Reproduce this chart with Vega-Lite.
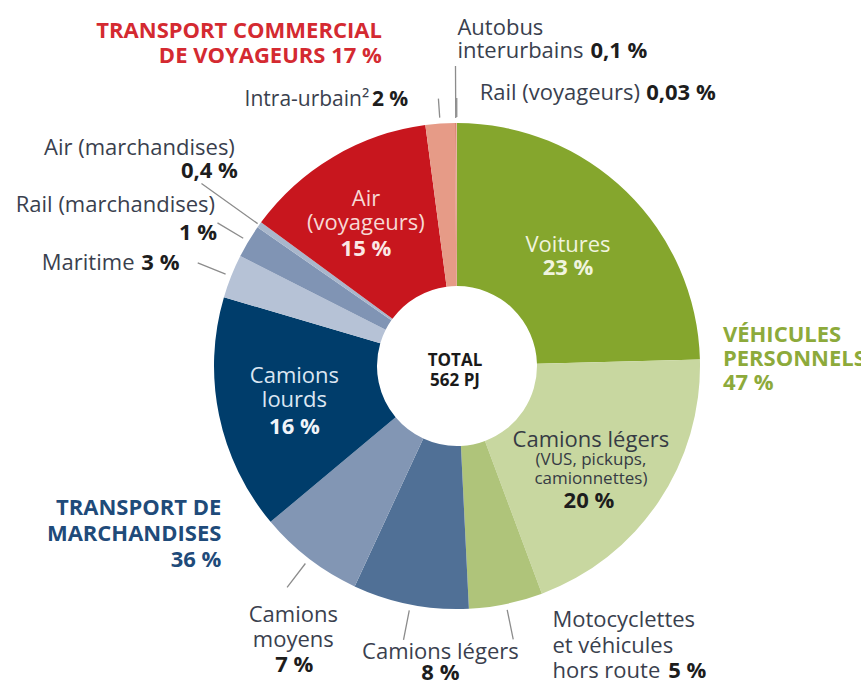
{
  "$schema": "https://vega.github.io/schema/vega-lite/v6.json",
  "autosize": "none",
  "width": 808,
  "height": 642,
  "padding": {"left": 53, "top": 45, "right": 0, "bottom": 0},
  "background": "white",
  "config": {"view": {"stroke": null}, "text": {"font": "Open Sans", "fontSize": 22, "lineBreak": "\n", "baseline": "alphabetic"}},
  "datasets": {
    "slices": [
      {"idx": 1, "key": "voit", "name": "Voitures", "pct": "23 %", "sub": "", "share": 24.57},
      {"idx": 2, "key": "clvp", "name": "Camions légers", "pct": "20 %", "sub": "(VUS, pickups,\ncamionnettes)", "share": 19.75},
      {"idx": 3, "key": "moto", "name": "Motocyclettes\net véhicules\nhors route", "pct": "5 %", "sub": "", "share": 4.9},
      {"idx": 4, "key": "clm", "name": "Camions légers", "pct": "8 %", "sub": "", "share": 7.7},
      {"idx": 5, "key": "cm", "name": "Camions\nmoyens", "pct": "7 %", "sub": "", "share": 7.0},
      {"idx": 6, "key": "cl", "name": "Camions\nlourds", "pct": "16 %", "sub": "", "share": 15.65},
      {"idx": 7, "key": "mar", "name": "Maritime", "pct": "3 %", "sub": "", "share": 2.9},
      {"idx": 8, "key": "railm", "name": "Rail (marchandises)", "pct": "1 %", "sub": "", "share": 2.2},
      {"idx": 9, "key": "airm", "name": "Air (marchandises)", "pct": "0,4 %", "sub": "", "share": 0.4},
      {"idx": 10, "key": "airv", "name": "Air\n(voyageurs)", "pct": "15 %", "sub": "", "share": 12.85},
      {"idx": 11, "key": "intra", "name": "Intra-urbain²", "pct": "2 %", "sub": "", "share": 1.95},
      {"idx": 12, "key": "bus", "name": "Autobus\ninterurbains", "pct": "0,1 %", "sub": "", "share": 0.1},
      {"idx": 13, "key": "railv", "name": "Rail (voyageurs)", "pct": "0,03 %", "sub": "", "share": 0.03}
    ],
    "groups": [
      {"idx": 1, "key": "vp", "label": "VÉHICULES\nPERSONNELS\n47 %", "share": 49.22},
      {"idx": 2, "key": "tm", "label": "TRANSPORT DE\nMARCHANDISES\n36 %", "share": 35.85},
      {"idx": 3, "key": "tcv", "label": "TRANSPORT COMMERCIAL\nDE VOYAGEURS 17 %", "share": 14.93}
    ],
    "center": [{"label": "TOTAL\n562 PJ"}]
  },
  "layer": [
    {
      "data": {"name": "slices"},
      "encoding": {
        "theta": {"field": "share", "type": "quantitative", "stack": true, "scale": {"domain": [0, 100]}},
        "order": {"field": "idx", "type": "quantitative"}
      },
      "layer": [
        {"mark": {"type": "arc", "innerRadius": 80, "outerRadius": 243},
         "encoding": {"color": {"field": "key", "type": "nominal", "legend": null,
           "scale": {"domain": ["voit","clvp","moto","clm","cm","cl","mar","railm","airm","airv","intra","bus","railv"],
                     "range": ["#85A62D","#C8D7A0","#AFC47A","#507096","#8296B4","#003D6B","#B6C2D6","#8094B4","#A9B7CC","#C8161E","#E69B87","#D9826D","#EDB2A0"]}}}},
        {"mark": {"type": "arc", "innerRadius": 249, "outerRadius": 279, "padAngle": 3, "fill": "transparent", "stroke": "#8c8c8c", "strokeWidth": 1.3},
         "encoding": {"strokeOpacity": {"condition": {"test": "indexof(['mar','railm','cm','clm','moto'], datum.key) >= 0", "value": 1}, "value": 0}}},
        {"mark": {"type": "arc", "innerRadius": 249, "outerRadius": 268, "padAngle": 3, "fill": "transparent", "stroke": "#8c8c8c", "strokeWidth": 1.3},
         "encoding": {"strokeOpacity": {"condition": {"test": "indexof(['intra','railv'], datum.key) >= 0", "value": 1}, "value": 0}}},
        {"mark": {"type": "arc", "innerRadius": 245, "outerRadius": 314, "padAngle": 3, "fill": "transparent", "stroke": "#8c8c8c", "strokeWidth": 1.3},
         "encoding": {"strokeOpacity": {"condition": {"test": "datum.key === 'airm'", "value": 1}, "value": 0}}},
        {"mark": {"type": "arc", "innerRadius": 248, "outerRadius": 300, "padAngle": 3, "fill": "transparent", "stroke": "#8c8c8c", "strokeWidth": 1.3},
         "encoding": {"strokeOpacity": {"condition": {"test": "datum.key === 'bus'", "value": 1}, "value": 0}}},

        {"mark": {"type": "text", "radius": 152, "align": "center", "dx": 5, "dy": -5, "color": "#F0F4DE"},
         "encoding": {"text": {"condition": {"test": "datum.key === 'voit'", "field": "name"}, "value": ""}}},
        {"mark": {"type": "text", "radius": 152, "align": "center", "dx": 5, "dy": 18, "color": "#F0F4DE", "fontWeight": "bold"},
         "encoding": {"text": {"condition": {"test": "datum.key === 'voit'", "field": "pct"}, "value": ""}}},

        {"mark": {"type": "text", "radius": 170, "align": "center", "dx": -7, "dy": -14, "color": "#363B44"},
         "encoding": {"text": {"condition": {"test": "datum.key === 'clvp'", "field": "name"}, "value": ""}}},
        {"mark": {"type": "text", "radius": 170, "align": "center", "dx": -7, "dy": 4, "color": "#363B44", "fontSize": 17, "lineHeight": 19},
         "encoding": {"text": {"condition": {"test": "datum.key === 'clvp'", "field": "sub"}, "value": ""}}},
        {"mark": {"type": "text", "radius": 170, "align": "center", "dx": -9, "dy": 47, "color": "#1d1d1d", "fontWeight": "bold"},
         "encoding": {"text": {"condition": {"test": "datum.key === 'clvp'", "field": "pct"}, "value": ""}}},

        {"mark": {"type": "text", "radius": 280, "align": "left", "dx": 39, "dy": -13, "color": "#3A3F4E", "lineHeight": 25.5},
         "encoding": {"text": {"condition": {"test": "datum.key === 'moto'", "field": "name"}, "value": ""}}},
        {"mark": {"type": "text", "radius": 280, "align": "right", "dx": 193, "dy": 38, "color": "#1d1d1d", "fontWeight": "bold"},
         "encoding": {"text": {"condition": {"test": "datum.key === 'moto'", "field": "pct"}, "value": ""}}},

        {"mark": {"type": "text", "radius": 290, "align": "center", "dx": 39, "dy": 8, "color": "#3A3F4E"},
         "encoding": {"text": {"condition": {"test": "datum.key === 'clm'", "field": "name"}, "value": ""}}},
        {"mark": {"type": "text", "radius": 290, "align": "center", "dx": 39, "dy": 29, "color": "#1d1d1d", "fontWeight": "bold"},
         "encoding": {"text": {"condition": {"test": "datum.key === 'clm'", "field": "pct"}, "value": ""}}},

        {"mark": {"type": "text", "radius": 300, "align": "center", "dx": 19, "dy": 18, "color": "#3A3F4E", "lineHeight": 25},
         "encoding": {"text": {"condition": {"test": "datum.key === 'cm'", "field": "name"}, "value": ""}}},
        {"mark": {"type": "text", "radius": 300, "align": "center", "dx": 20, "dy": 68, "color": "#1d1d1d", "fontWeight": "bold"},
         "encoding": {"text": {"condition": {"test": "datum.key === 'cm'", "field": "pct"}, "value": ""}}},

        {"mark": {"type": "text", "radius": 165, "align": "center", "dx": -1, "dy": -17, "color": "#DCE6F2", "lineHeight": 24},
         "encoding": {"text": {"condition": {"test": "datum.key === 'cl'", "field": "name"}, "value": ""}}},
        {"mark": {"type": "text", "radius": 165, "align": "center", "dx": -1, "dy": 34, "color": "#F0F4FA", "fontWeight": "bold"},
         "encoding": {"text": {"condition": {"test": "datum.key === 'cl'", "field": "pct"}, "value": ""}}},

        {"mark": {"type": "text", "radius": 290, "align": "right", "dx": -53, "dy": 11, "color": "#3A3F4E"},
         "encoding": {"text": {"condition": {"test": "datum.key === 'mar'", "field": "name"}, "value": ""}}},
        {"mark": {"type": "text", "radius": 290, "align": "right", "dx": -8, "dy": 11, "color": "#1d1d1d", "fontWeight": "bold"},
         "encoding": {"text": {"condition": {"test": "datum.key === 'mar'", "field": "pct"}, "value": ""}}},

        {"mark": {"type": "text", "radius": 290, "align": "right", "dx": 7, "dy": -5, "color": "#3A3F4E"},
         "encoding": {"text": {"condition": {"test": "datum.key === 'railm'", "field": "name"}, "value": ""}}},
        {"mark": {"type": "text", "radius": 290, "align": "right", "dx": 9, "dy": 23, "color": "#1d1d1d", "fontWeight": "bold"},
         "encoding": {"text": {"condition": {"test": "datum.key === 'railm'", "field": "pct"}, "value": ""}}},

        {"mark": {"type": "text", "radius": 300, "align": "right", "dx": 22, "dy": -37, "color": "#3A3F4E"},
         "encoding": {"text": {"condition": {"test": "datum.key === 'airm'", "field": "name"}, "value": ""}}},
        {"mark": {"type": "text", "radius": 300, "align": "right", "dx": 25, "dy": -14, "color": "#1d1d1d", "fontWeight": "bold"},
         "encoding": {"text": {"condition": {"test": "datum.key === 'airm'", "field": "pct"}, "value": ""}}},

        {"mark": {"type": "text", "radius": 165, "align": "center", "dx": -7, "dy": -18, "color": "#F7D9D5", "lineHeight": 24},
         "encoding": {"text": {"condition": {"test": "datum.key === 'airv'", "field": "name"}, "value": ""}}},
        {"mark": {"type": "text", "radius": 165, "align": "center", "dx": -7, "dy": 32, "color": "#FBE8E5", "fontWeight": "bold"},
         "encoding": {"text": {"condition": {"test": "datum.key === 'airv'", "field": "pct"}, "value": ""}}},

        {"mark": {"type": "text", "radius": 270, "align": "right", "dx": -69, "dy": 9, "color": "#3A3F4E", "fontSize": 21},
         "encoding": {"text": {"condition": {"test": "datum.key === 'intra'", "field": "name"}, "value": ""}}},
        {"mark": {"type": "text", "radius": 270, "align": "right", "dx": -30, "dy": 9, "color": "#1d1d1d", "fontWeight": "bold", "fontSize": 21},
         "encoding": {"text": {"condition": {"test": "datum.key === 'intra'", "field": "pct"}, "value": ""}}},

        {"mark": {"type": "text", "radius": 310, "align": "left", "dx": 2, "dy": -21, "color": "#3A3F4E", "lineHeight": 23},
         "encoding": {"text": {"condition": {"test": "datum.key === 'bus'", "field": "name"}, "value": ""}}},
        {"mark": {"type": "text", "radius": 310, "align": "right", "dx": 192, "dy": 2, "color": "#1d1d1d", "fontWeight": "bold"},
         "encoding": {"text": {"condition": {"test": "datum.key === 'bus'", "field": "pct"}, "value": ""}}},

        {"mark": {"type": "text", "radius": 280, "align": "left", "dx": 23, "dy": 14, "color": "#3A3F4E"},
         "encoding": {"text": {"condition": {"test": "datum.key === 'railv'", "field": "name"}, "value": ""}}},
        {"mark": {"type": "text", "radius": 280, "align": "right", "dx": 259, "dy": 14, "color": "#1d1d1d", "fontWeight": "bold"},
         "encoding": {"text": {"condition": {"test": "datum.key === 'railv'", "field": "pct"}, "value": ""}}}
      ]
    },
    {
      "data": {"name": "groups"},
      "encoding": {
        "theta": {"field": "share", "type": "quantitative", "stack": true, "scale": {"domain": [0, 100]}},
        "order": {"field": "idx", "type": "quantitative"}
      },
      "layer": [
        {"mark": {"type": "text", "radius": 300, "align": "left", "dx": -34, "dy": -17, "color": "#8DAA3B", "fontWeight": "bold", "fontSize": 22, "lineHeight": 24},
         "encoding": {"text": {"condition": {"test": "datum.key === 'vp'", "field": "label"}, "value": ""}}},
        {"mark": {"type": "text", "radius": 330, "align": "right", "dx": 55, "dy": -7, "color": "#1F4B7A", "fontWeight": "bold", "fontSize": 22, "lineHeight": 26},
         "encoding": {"text": {"condition": {"test": "datum.key === 'tm'", "field": "label"}, "value": ""}}},
        {"mark": {"type": "text", "radius": 330, "align": "right", "dx": 74, "dy": -34, "color": "#D42A31", "fontWeight": "bold", "fontSize": 22, "lineHeight": 25},
         "encoding": {"text": {"condition": {"test": "datum.key === 'tcv'", "field": "label"}, "value": ""}}}
      ]
    },
    {
      "data": {"name": "center"},
      "mark": {"type": "text", "align": "center", "dx": -2, "dy": 0, "color": "#1a1a1a", "fontWeight": "bold", "fontSize": 17, "lineHeight": 20},
      "encoding": {"text": {"field": "label"}}
    }
  ]
}
